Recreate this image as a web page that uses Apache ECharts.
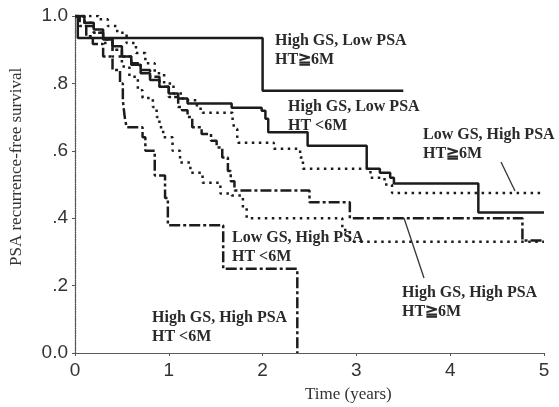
<!DOCTYPE html>
<html lang="en">
<head>
    <meta charset="UTF-8">
    <title>PSA recurrence-free survival</title>
    <style>
        html, body { margin: 0; padding: 0; background: #fff; }
        #main { width: 559px; height: 407px; }
    </style>
</head>
<body>
<div id="main"></div>
<script src="https://cdn.jsdelivr.net/npm/echarts@6/dist/echarts.min.js"></script>
<script>
    // tick labels
    var xTicks = [0, 1, 2, 3, 4, 5];
    var yTickLabels = {'0': '0.0', '0.2': '.2', '0.4': '.4', '0.6': '.6', '0.8': '.8', '1': '1.0'};

    // [years, survival] - value after the step at that time
    var hgsLpsaLong = [[0, 1], [0.03, 0.935], [2.0, 0.778], [3.5, 0.778]];
    var hgsLpsaShort = [[0, 1], [0.1, 0.98], [0.2, 0.96], [0.3, 0.93], [0.4, 0.91], [0.5, 0.88], [0.6, 0.855],
        [0.7, 0.83], [0.8, 0.81], [0.9, 0.79], [1.0, 0.77], [1.1, 0.755], [1.2, 0.74], [1.67, 0.728],
        [1.99, 0.719], [2.03, 0.695], [2.06, 0.655], [2.48, 0.615], [3.11, 0.547], [3.25, 0.535],
        [3.36, 0.52], [3.4, 0.503], [4.3, 0.417], [5, 0.417]];
    var lgsHpsaLong = [[0, 1], [0.25, 0.99], [0.35, 0.97], [0.45, 0.95], [0.55, 0.92], [0.65, 0.89],
        [0.75, 0.86], [0.85, 0.83], [0.95, 0.80], [1.05, 0.77], [1.15, 0.75], [1.3, 0.725], [1.36, 0.713],
        [1.68, 0.69], [1.7, 0.665], [1.73, 0.64], [1.74, 0.624], [2.12, 0.606], [2.4, 0.58], [2.43, 0.547],
        [3.15, 0.52], [3.3, 0.5], [3.38, 0.475], [5, 0.475]];
    var lgsHpsaShort = [[0, 1], [0.1, 0.98], [0.2, 0.95], [0.3, 0.92], [0.4, 0.88], [0.5, 0.85], [0.58, 0.82],
        [0.67, 0.78], [0.72, 0.757], [0.83, 0.73], [0.87, 0.70], [0.9, 0.67], [0.94, 0.64], [1.04, 0.60],
        [1.12, 0.565], [1.23, 0.535], [1.36, 0.505], [1.55, 0.473], [1.67, 0.467], [1.79, 0.43],
        [1.83, 0.40], [2.85, 0.365], [2.93, 0.33], [5, 0.33]];
    var hgsHpsaLong = [[0, 1], [0.1, 0.97], [0.2, 0.95], [0.3, 0.93], [0.4, 0.90], [0.5, 0.88], [0.6, 0.86],
        [0.7, 0.84], [0.8, 0.82], [0.9, 0.79], [1.0, 0.76], [1.1, 0.73], [1.14, 0.72], [1.2, 0.70],
        [1.25, 0.67], [1.35, 0.65], [1.45, 0.63], [1.51, 0.61], [1.57, 0.58], [1.63, 0.54], [1.66, 0.51],
        [1.7, 0.482], [2.5, 0.447], [2.93, 0.40], [4.77, 0.334], [5, 0.334]];
    var hgsHpsaShort = [[0, 1], [0.05, 0.97], [0.12, 0.94], [0.19, 0.917], [0.3, 0.88], [0.4, 0.84],
        [0.48, 0.80], [0.51, 0.75], [0.53, 0.70], [0.55, 0.67], [0.72, 0.64], [0.75, 0.60], [0.85, 0.527],
        [0.96, 0.46], [0.99, 0.379], [1.58, 0.25], [2.37, 0]];

    var ink = '#1c1c1c';
    var serif = 'Liberation Serif';

    function km(name, data, type, width) {
        return {
            name: name,
            type: 'line',
            step: 'end',
            symbol: 'none',
            silent: true,
            animation: false,
            data: data,
            lineStyle: { color: ink, width: width, type: type, cap: 'butt' }
        };
    }

    function label(x, y, lines) {
        return {
            type: 'text', left: x, top: y, silent: true,
            style: {
                text: lines.join('\n'), fill: '#2a2a2a',
                font: 'bold 16px "' + serif + '"', lineHeight: 19
            }
        };
    }

    var frameLine = { show: true, lineStyle: { color: '#555', width: 1.2, type: 'dotted' } };

    var myChart = echarts.init(document.getElementById('main'));
    var option = {
        backgroundColor: '#fff',
        animation: false,
        grid: { left: 75, right: 15, top: 16, bottom: 54, outerBoundsMode: 'none' },
        xAxis: [{
            type: 'value', min: 0, max: 5, interval: 1,
            splitLine: { show: false },
            axisLine: frameLine,
            axisTick: { show: true, length: 3, lineStyle: { color: '#555' } },
            axisLabel: {
                margin: 8, color: '#333', fontSize: 19, fontFamily: 'Liberation Sans',
                formatter: function (v) { return xTicks.indexOf(v) >= 0 ? String(v) : ''; }
            }
        }, {
            type: 'value', min: 0, max: 5, position: 'top',
            splitLine: { show: false }, axisLine: frameLine,
            axisTick: { show: false }, axisLabel: { show: false }
        }],
        yAxis: [{
            type: 'value', min: 0, max: 1, interval: 0.2,
            splitLine: { show: false },
            axisLine: frameLine,
            axisTick: { show: true, length: 3, lineStyle: { color: '#555' } },
            axisLabel: {
                margin: 7, color: '#333', fontSize: 19, fontFamily: 'Liberation Sans',
                formatter: function (v) { return yTickLabels[String(+v.toFixed(1))]; }
            }
        }, {
            type: 'value', min: 0, max: 1, position: 'right',
            splitLine: { show: false }, axisLine: frameLine,
            axisTick: { show: false }, axisLabel: { show: false }
        }],
        series: [
            km('High GS, Low PSA HT≧6M', hgsLpsaLong, 'solid', 2.5),
            km('High GS, Low PSA HT<6M', hgsLpsaShort, 'solid', 2.5),
            km('Low GS, High PSA HT≧6M', lgsHpsaLong, [2.5, 4.5], 2.5),
            km('Low GS, High PSA HT<6M', lgsHpsaShort, [2.5, 4.5], 2.5),
            km('High GS, High PSA HT≧6M', hgsHpsaLong, [11, 3, 3, 3], 2.5),
            km('High GS, High PSA HT<6M', hgsHpsaShort, [11, 3, 3, 3], 2.5)
        ],
        graphic: [
            label(275, 31, ['High GS, Low PSA', 'HT≧6M']),
            label(288, 97, ['High GS, Low PSA', 'HT <6M']),
            label(423, 125, ['Low GS, High PSA', 'HT≧6M']),
            label(232, 228, ['Low GS, High PSA', 'HT <6M']),
            label(152, 308, ['High GS, High PSA', 'HT <6M']),
            label(402, 283, ['High GS, High PSA', 'HT≧6M']),
            { type: 'line', silent: true, shape: { x1: 501, y1: 162, x2: 515, y2: 191 },
              style: { stroke: '#333', lineWidth: 1.3 } },
            { type: 'line', silent: true, shape: { x1: 424, y1: 278, x2: 404, y2: 218 },
              style: { stroke: '#333', lineWidth: 1.3 } },
            {
                type: 'text', left: 305, top: 386, silent: true,
                style: { text: 'Time (years)', fill: '#333', font: '17px "' + serif + '"' }
            },
            {
                type: 'text', silent: true, x: 8, y: 266, rotation: Math.PI / 2,
                style: { text: 'PSA recurrence-free survival', fill: '#333', font: '17px "' + serif + '"' }
            }
        ]
    };
    myChart.setOption(option);
</script>
</body>
</html>
